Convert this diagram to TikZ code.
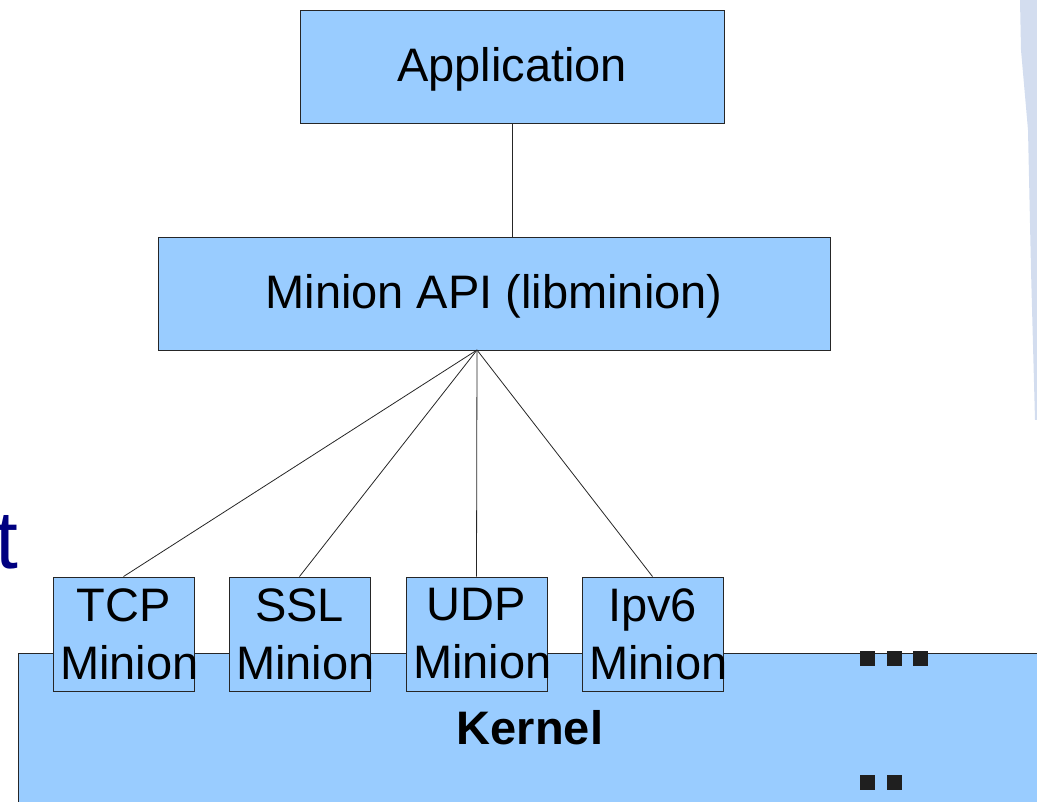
\documentclass[tikz,border=0pt]{standalone}
\usepackage{fontspec}
\setmainfont{Liberation Sans}
\definecolor{boxblue}{HTML}{99CCFF}
\definecolor{navytext}{HTML}{000080}
\definecolor{stripblue}{HTML}{D3DDEF}
\begin{document}
\begin{tikzpicture}[x=1pt,y=-1pt,
  blk/.style={draw=black!85,fill=boxblue,line width=0.9pt,inner sep=0pt},
  link/.style={draw=black!85,line width=0.8pt},
  sq/.style={fill=black!88,draw=none}]
\useasboundingbox (0,0) rectangle (1037,802);
\begin{scope}
\clip (0,0) rectangle (1037,802);
% side strip
\fill[stripblue] (1020,0) -- (1037,0) -- (1037,420) -- (1035,420) -- (1031,270) -- (1028,130) -- (1021,50) -- cycle;
% kernel
\node[blk,minimum width=1040,minimum height=170,anchor=north west] (kernel) at (18,653) {};
\node[font=\fontsize{47}{56}\selectfont\bfseries] (kerneltxt) at (530,728) {Kernel};
% dots
\fill[sq] (860,651) rectangle (875,666);
\fill[sq] (887,651) rectangle (902,666);
\fill[sq] (913,651) rectangle (928,666);
\fill[sq] (860,775) rectangle (875,790);
\fill[sq] (887,775) rectangle (902,790);
% navy t
\node[text=navytext,font=\fontsize{82}{90}\selectfont,anchor=base east,inner sep=0pt] (tt) at (18,568) {t};
\end{scope}
% top boxes
\node[blk,minimum width=424,minimum height=113,font=\fontsize{47}{56}\selectfont] (app) at (512,66.5) {};
\node[font=\fontsize{47}{56}\selectfont] (apptxt) at (512,69.5) {Application};
\node[blk,minimum width=672,minimum height=113,font=\fontsize{47}{56}\selectfont] (api) at (494,293.5) {};
\node[font=\fontsize{47}{56}\selectfont] (apitxt) at (494,296.5) {Minion API (libminion)};
\coordinate (hub) at (477,350);
% minion boxes
\foreach \n/\cx/\t in {tcp/123.5/TCP,ssl/299.5/SSL,udp/476.5/UDP,ipv/652.5/Ipv6}{
  \node[blk,minimum width=141,minimum height=114] (\n) at (\cx,634) {};
  \node[font=\fontsize{47}{58}\selectfont,align=center,inner sep=0pt] (\n txt) at (\cx,634) {\t\\\hspace*{12pt}Minion};
}
% connectors
\draw[link] (app.south) -- (app.south |- api.north);
\draw[link] (hub) -- (tcp.north);
\draw[link] (hub) -- (ssl.north);
\draw[link] (hub) -- (udp.north);
\draw[link] (hub) -- (ipv.north);
\end{tikzpicture}
\end{document}
